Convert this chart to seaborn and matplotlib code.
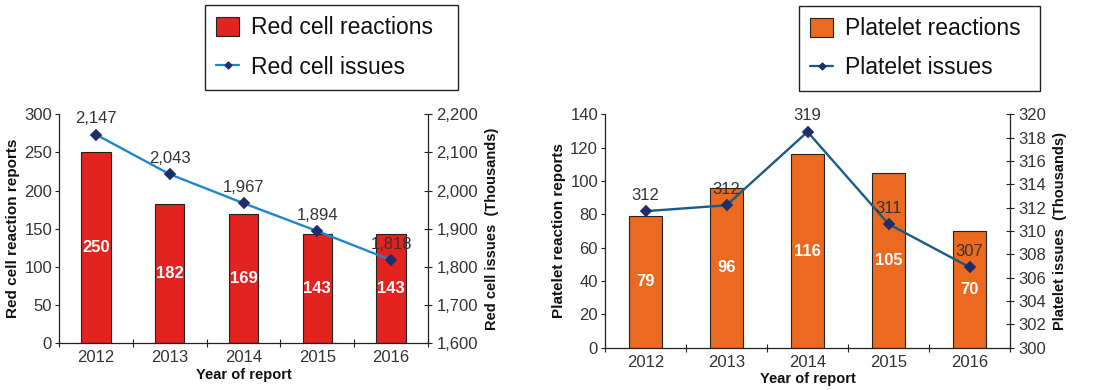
import matplotlib
matplotlib.use("Agg")
import matplotlib.pyplot as plt
import seaborn as sns
from matplotlib.ticker import FuncFormatter, MultipleLocator, FixedLocator
from matplotlib.patches import Patch
from matplotlib.lines import Line2D

years = ["2012", "2013", "2014", "2015", "2016"]
red_reactions = [250, 182, 169, 143, 143]
red_issues = [2147, 2043, 1967, 1894, 1818]
red_issue_labels = ["2,147", "2,043", "1,967", "1,894", "1,818"]
plt_reactions = [79, 96, 116, 105, 70]
plt_issues = [311.7, 312.2, 318.5, 310.6, 306.9]
plt_issue_labels = ["312", "312", "319", "311", "307"]

sns.set_theme(style="ticks")
plt.rcParams['font.family'] = ['Liberation Sans', 'DejaVu Sans']

TXT = '#333333'
SP = '#222222'
W, H = 1109, 390

fig = plt.figure(figsize=(11.09, 3.9), dpi=100)


def panel(rect, reactions, issues, issue_labels, bar_color, line_color,
          lylim, lstep, rylim, rstep, rfmt, ylab_l, ylab_r, leg_labels, leg_box):
    ax = fig.add_axes(rect)
    sns.barplot(x=years, y=reactions, ax=ax, color=bar_color, width=0.4,
                edgecolor=SP, linewidth=0.8, saturation=1)
    ax2 = ax.twinx()
    sns.pointplot(x=years, y=issues, ax=ax2, color=line_color, markers='D',
                  linewidth=1.7, markersize=5.5, markerfacecolor='#1f2d6b',
                  markeredgecolor='#1f2d6b', errorbar=None)
    ax.set_xlim(-0.5, 4.5)
    ax.set_ylim(*lylim)
    ax.yaxis.set_major_locator(MultipleLocator(lstep))
    ax2.set_ylim(*rylim)
    ax2.yaxis.set_major_locator(MultipleLocator(rstep))
    ax2.yaxis.set_major_formatter(FuncFormatter(rfmt))
    ax.xaxis.set_major_locator(FixedLocator(range(len(years))))
    ax.set_xticklabels(years)
    ax.xaxis.set_minor_locator(FixedLocator([i - 0.5 for i in range(len(years) + 1)]))
    ax.tick_params(axis='x', which='major', length=0, labelsize=12, labelcolor=TXT, pad=5)
    ax.tick_params(axis='x', which='minor', length=6, direction='inout', width=0.8, color=SP)
    ax.tick_params(axis='y', length=3, direction='out', width=0.8, color=SP, labelsize=12, labelcolor=TXT, pad=2)
    ax2.tick_params(axis='y', length=6, direction='inout', width=0.8, color=SP, labelsize=12, labelcolor=TXT, pad=3)
    for s in ['top', 'right']:
        ax.spines[s].set_visible(False)
    for s in ['top', 'left', 'bottom']:
        ax2.spines[s].set_visible(False)
    for a in (ax, ax2):
        for s in a.spines.values():
            s.set_color(SP)
            s.set_linewidth(0.9)
    ax.set_xlabel("Year of report", fontsize=10.5, fontweight='bold', color='#111', labelpad=2)
    ax.set_ylabel(ylab_l, fontsize=11, fontweight='bold', color='#111', labelpad=3)
    ax2.set_ylabel(ylab_r, fontsize=10.5, fontweight='bold', color='#111', labelpad=5)
    ax.bar_label(ax.containers[0], labels=[str(v) for v in reactions], label_type='center',
                 color='white', fontweight='bold', fontsize=12)
    for i, (v, lab) in enumerate(zip(issues, issue_labels)):
        ax2.annotate(lab, (i, v), xytext=(0, 6), textcoords='offset points',
                     ha='center', va='bottom', fontsize=12, color=TXT)
    ax2.set_zorder(ax.get_zorder() + 1)
    ax2.patch.set_visible(False)
    handles = [Patch(facecolor=bar_color, edgecolor=SP, linewidth=0.8),
               Line2D([], [], color=line_color, marker='D', markersize=3.5,
                      markerfacecolor='#1f2d6b', markeredgecolor='#1f2d6b', linewidth=1.6)]
    x0, x1, y0, y1 = leg_box
    leg = fig.legend(handles, leg_labels, loc='upper left',
                     bbox_to_anchor=(x0 / W, 1 - y1 / H, (x1 - x0) / W, (y1 - y0) / H),
                     mode='expand',
                     fontsize=16.5, frameon=True, fancybox=False, edgecolor=SP,
                     handlelength=1.0, handleheight=0.9, handletextpad=0.5,
                     borderpad=0.5, labelspacing=0.7, framealpha=1, borderaxespad=0)
    leg.get_frame().set_linewidth(1.0)
    for t in leg.get_texts():
        t.set_color('#111')
    return ax, ax2


panel([59 / W, (H - 343.3) / H, (428 - 59) / W, (343.3 - 114.3) / H],
      red_reactions, red_issues, red_issue_labels, '#e2231f', '#1f86c8',
      (0, 300), 50, (1600, 2200), 100, lambda v, p: f"{int(v):,}",
      "Red cell reaction reports", "Red cell issues  (Thousands)",
      ["Red cell reactions", "Red cell issues"], (205, 458, 5, 91))

panel([605 / W, (H - 347.7) / H, (1010 - 605) / W, (347.7 - 114.3) / H],
      plt_reactions, plt_issues, plt_issue_labels, '#eb6a1f', '#1b5a86',
      (0, 140), 20, (300, 320), 2, lambda v, p: f"{int(round(v))}",
      "Platelet reaction reports", "Platelet issues  (Thousands)",
      ["Platelet reactions", "Platelet issues"], (799, 1040, 6, 91))

fig.savefig("out.png", dpi=100)
